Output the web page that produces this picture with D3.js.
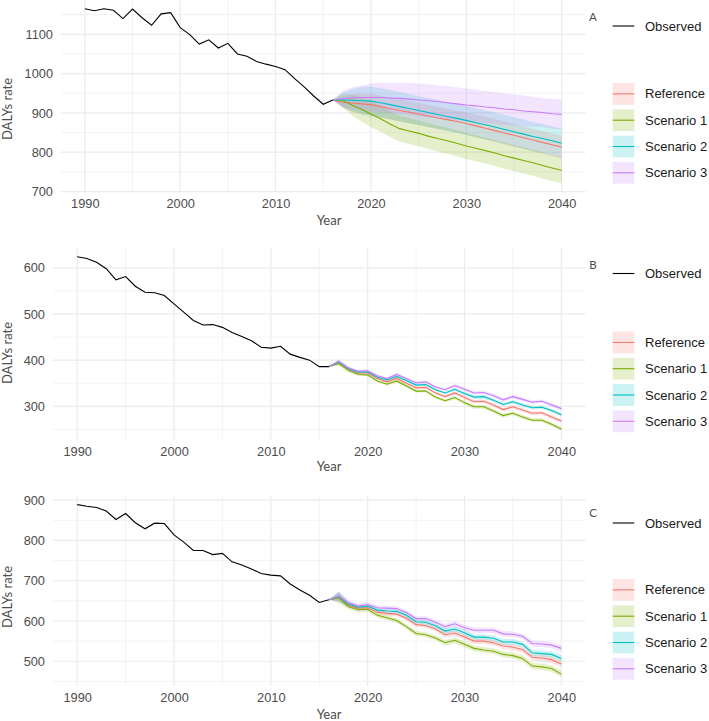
<!DOCTYPE html>
<html><head><meta charset="utf-8">
<script src="https://cdn.jsdelivr.net/npm/d3@7"></script>
<style>body{margin:0;background:#fff}svg{display:block}</style>
</head><body><svg id="chart" width="709" height="721"></svg>
<script>
// ---------------- DATA ----------------
const yearsObs  = [1990,1991,1992,1993,1994,1995,1996,1997,1998,1999,2000,2001,2002,2003,2004,2005,2006,2007,2008,2009,2010,2011,2012,2013,2014,2015,2016];
const yearsProj = [2016,2017,2018,2019,2020,2021,2022,2023,2024,2025,2026,2027,2028,2029,2030,2031,2032,2033,2034,2035,2036,2037,2038,2039,2040];
const scenarioNames = ["Reference","Scenario 1","Scenario 2","Scenario 3"];
const scenarioColors = ["#F8766D","#7CAE00","#00BFC4","#C77CFF"];
const xTicks = [1990,2000,2010,2020,2030,2040];
const xMinor = [1995,2005,2015,2025,2035];

// Panel A
const obsA = [1165,1160,1165,1161,1140,1164,1142,1123,1152,1155,1117,1099,1075,1086,1065,1077,1050,1044,1031,1024,1018,1010,987,966,943,922,933];
const refA = [933,927,925,923,921,916,911,906,902,897,892,887,883,878,873,867,861,855,849,843,837,831,825,819,813];
const refA_lo = [933,912,903,897,893,888,883,878,874,869,864,859,855,850,845,838,832,826,820,814,808,802,796,790,784];
const refA_hi = [933,942,947,949,949,944,939,934,930,925,920,915,911,906,901,896,890,884,878,872,866,860,854,848,842];
const s1A = [933,932,920,909,897,885,872,860,854,848,841,835,829,823,816,810,804,798,791,785,779,773,766,760,754];
const s1A_lo = [933,916,894,878,864,852,839,827,821,815,808,802,796,790,783,777,771,765,758,752,746,740,733,727,721];
const s1A_hi = [933,948,946,940,930,918,905,893,887,881,874,868,862,856,849,843,837,831,824,818,812,806,799,793,787];
const s2A = [933,933,932,931,930,926,921,916,911,906,901,896,891,886,881,875,870,864,858,852,846,840,835,829,823];
const s2A_lo = [933,915,904,897,893,889,884,879,874,869,864,859,854,849,844,838,833,827,821,815,809,803,798,792,786];
const s2A_hi = [933,951,960,965,967,963,958,953,948,943,938,933,928,923,918,912,907,901,895,889,883,877,872,866,860];
const s3A = [933,936,938,939,939,939,938,937,935,933,931,929,926,923,920,918,915,913,910,908,905,903,901,898,896];
const s3A_lo = [933,917,911,908,903,901,899,897,894,891,889,888,884,881,878,877,874,873,870,869,866,865,864,860,858];
const s3A_hi = [933,955,965,970,975,977,977,977,976,975,973,970,968,965,962,959,956,953,950,947,944,941,938,936,934];
const yTicksA = [700,800,900,1000,1100];
const yMinorA = [750,850,950,1050,1150];

// Panel B
const obsB = [624,620,612,598,574,581,560,547,546,540,522,504,486,476,477,471,460,451,442,428,426,430,413,406,400,386,386];
const refB = [386,395,381,372,372,360,353,361,350,340,341,329,321,329,319,310,311,303,293,299,292,285,286,277,268];
const s1B  = [386,393,378,369,368,355,348,355,344,333,333,320,312,319,308,299,299,290,280,285,277,270,270,261,251];
const s2B  = [386,396,382,374,375,363,357,365,356,346,347,336,329,337,328,320,321,313,304,310,303,297,298,291,282];
const s3B  = [386,397,383,376,377,366,360,369,360,351,353,342,336,345,337,329,330,323,314,321,315,309,311,303,295];
const bandB = [0,5,4,3,3,3,3,4,3,3,3,3,3,4,4,4,4,4,4,4,4,4,4,4,4];
const yTicksB = [300,400,500,600];
const yMinorB = [250,350,450,550];

// Panel C
const obsC = [889,885,882,873,852,867,844,829,843,842,814,796,775,775,765,768,747,739,729,718,714,712,692,677,664,646,653];
const refC = [653,660,640,632,633,622,619,617,607,591,589,580,566,570,560,550,550,546,538,535,529,510,508,504,493];
const s1C  = [653,657,636,628,629,614,608,601,586,569,566,558,546,552,542,532,528,525,517,514,507,488,486,482,468];
const s2C  = [653,661,642,634,637,627,625,624,614,598,597,588,575,580,571,560,560,557,548,548,542,521,519,517,507];
const s3C  = [653,662,646,637,641,633,632,631,621,606,606,597,586,593,583,577,577,577,568,567,562,544,543,540,532];
const bandC = [0,12,7,6,6,6,6,6,6,6,6,6,7,7,7,7,7,7,7,7,7,8,8,8,8];
const yTicksC = [500,600,700,800,900];
const yMinorC = [450,550,650,750,850];

// ---------------- BUILD ----------------
function sym(mid, band, sign){ return mid.map((v,i)=>v + sign*band[i]); }
const panels = [
  {tag:"A", obs:obsA, mids:[refA,s1A,s2A,s3A], los:[refA_lo,s1A_lo,s2A_lo,s3A_lo], his:[refA_hi,s1A_hi,s2A_hi,s3A_hi],
   yTicks:yTicksA, yMinor:yMinorA, left:61, top:0, bottom:192, yLab:109, xLab:225, tagY:21, legObsY:26, legKeyTop:83},
  {tag:"B", obs:obsB, mids:[refB,s1B,s2B,s3B], los:[refB,s1B,s2B,s3B].map(a=>sym(a,bandB,-1)), his:[refB,s1B,s2B,s3B].map(a=>sym(a,bandB,1)),
   yTicks:yTicksB, yMinor:yMinorB, left:53, top:248, bottom:439.5, yLab:353, xLab:471, tagY:269, legObsY:273.5, legKeyTop:331.5},
  {tag:"C", obs:obsC, mids:[refC,s1C,s2C,s3C], los:[refC,s1C,s2C,s3C].map(a=>sym(a,bandC,-1)), his:[refC,s1C,s2C,s3C].map(a=>sym(a,bandC,1)),
   yTicks:yTicksC, yMinor:yMinorC, left:53, top:496, bottom:686, yLab:597, xLab:718.5, tagY:517, legObsY:523, legKeyTop:579},
];

const svg = d3.select("#chart");
const RIGHT = 585.5;
const tickFont = "'Liberation Sans', Arial, sans-serif";
const titleFont = "Lato, 'Open Sans', sans-serif";

panels.forEach(p => {
  const x = d3.scaleLinear().domain([1987.5, 2042.5]).range([p.left, RIGHT]);
  const all = p.obs.concat(...p.los, ...p.his);
  const mn = d3.min(all), mx = d3.max(all), pad = (mx - mn) * 0.05;
  const y = d3.scaleLinear().domain([mn - pad, mx + pad]).range([p.bottom, p.top]);
  const g = svg.append("g");

  // minor grid
  g.selectAll(null).data(p.yMinor).join("line")
    .attr("x1", p.left).attr("x2", RIGHT).attr("y1", d=>y(d)).attr("y2", d=>y(d))
    .attr("stroke","#EBEBEB").attr("stroke-width",0.6);
  g.selectAll(null).data(xMinor).join("line")
    .attr("y1", p.top).attr("y2", p.bottom).attr("x1", d=>x(d)).attr("x2", d=>x(d))
    .attr("stroke","#EBEBEB").attr("stroke-width",0.6);
  // major grid
  g.selectAll(null).data(p.yTicks).join("line")
    .attr("x1", p.left).attr("x2", RIGHT).attr("y1", d=>y(d)).attr("y2", d=>y(d))
    .attr("stroke","#EBEBEB").attr("stroke-width",1.2);
  g.selectAll(null).data(xTicks).join("line")
    .attr("y1", p.top).attr("y2", p.bottom).attr("x1", d=>x(d)).attr("x2", d=>x(d))
    .attr("stroke","#EBEBEB").attr("stroke-width",1.2);

  // ribbons
  const area = d3.area().x((d,i)=>x(yearsProj[i])).y0(d=>y(d[0])).y1(d=>y(d[1]));
  p.mids.forEach((m,k) => {
    const pts = yearsProj.map((yr,i)=>[p.los[k][i], p.his[k][i]]);
    g.append("path").attr("d", area(pts)).attr("fill", scenarioColors[k]).attr("fill-opacity", 0.2);
  });
  // lines
  const lineP = d3.line().x((d,i)=>x(yearsProj[i])).y(d=>y(d));
  p.mids.forEach((m,k) => {
    g.append("path").attr("d", lineP(m)).attr("fill","none").attr("stroke", scenarioColors[k]).attr("stroke-width",1.1);
  });
  const lineO = d3.line().x((d,i)=>x(yearsObs[i])).y(d=>y(d));
  g.append("path").attr("d", lineO(p.obs)).attr("fill","none").attr("stroke","#000").attr("stroke-width",1.1);

  // axes
  const ax = g.append("g").attr("transform", `translate(0,${p.bottom})`)
    .call(d3.axisBottom(x).tickValues(xTicks).tickFormat(d3.format("d")).tickSize(0).tickPadding(7));
  const ay = g.append("g").attr("transform", `translate(${p.left},0)`)
    .call(d3.axisLeft(y).tickValues(p.yTicks).tickFormat(d3.format("d")).tickSize(0).tickPadding(8));
  [ax, ay].forEach(a => {
    a.select(".domain").remove();
    a.selectAll("text").attr("fill","#4D4D4D").style("font-family", tickFont).style("font-size","12.8px");
  });

  // axis titles
  g.append("text").attr("x", 329).attr("y", p.xLab).attr("text-anchor","middle")
    .attr("fill","#4D4D4D").style("font-family", titleFont).style("font-size","13px").text("Year");
  g.append("text").attr("transform", `translate(11.5,${p.yLab}) rotate(-90)`).attr("text-anchor","middle")
    .attr("fill","#4D4D4D").style("font-family", titleFont).style("font-size","13px").text("DALYs rate");

  // tag
  g.append("text").attr("x", 593).attr("y", p.tagY).attr("text-anchor","middle")
    .attr("fill","#4D4D4D").style("font-family", titleFont).style("font-size","11.5px").text(p.tag);

  // legend
  const lg = g.append("g");
  lg.append("line").attr("x1",612.7).attr("x2",634.3).attr("y1",p.legObsY).attr("y2",p.legObsY)
    .attr("stroke","#000").attr("stroke-width",1.1);
  lg.append("text").attr("x",645).attr("y",p.legObsY).attr("dy","0.35em")
    .style("font-family", tickFont).style("font-size","13px").attr("fill","#1A1A1A").text("Observed");
  scenarioNames.forEach((nm,k) => {
    const ty = p.legKeyTop + k*26.3;
    lg.append("rect").attr("x",612.7).attr("y",ty).attr("width",21.6).attr("height",21.8)
      .attr("fill", scenarioColors[k]).attr("fill-opacity",0.2);
    lg.append("line").attr("x1",612.7).attr("x2",634.3).attr("y1",ty+10.9).attr("y2",ty+10.9)
      .attr("stroke", scenarioColors[k]).attr("stroke-width",1.1);
    lg.append("text").attr("x",645).attr("y",ty+10.9).attr("dy","0.35em")
      .style("font-family", tickFont).style("font-size","13px").attr("fill","#1A1A1A").text(nm);
  });
});
</script></body></html>
